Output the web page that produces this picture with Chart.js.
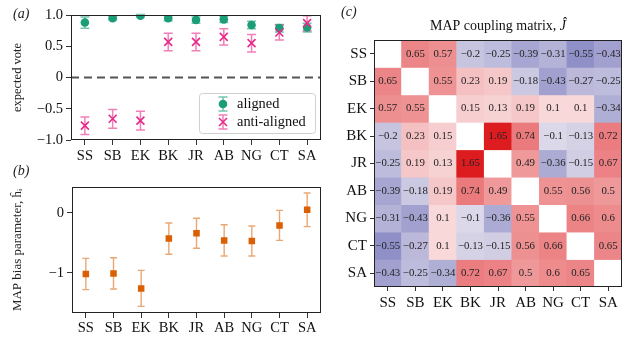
<!DOCTYPE html>
<html>
<head>
<meta charset="utf-8">
<style>
  html, body { margin: 0; width: 632px; height: 338px; overflow: hidden; background: #fff; }
  .panel { position: absolute; }
  .tag { position: absolute; font: italic 14px "Liberation Serif", serif; color: #222; }
</style>
</head>
<body>
<div class="panel" style="left:0;top:0;width:332px;height:168px"><canvas id="votes"></canvas></div>
<div class="panel" style="left:0;top:168px;width:332px;height:170px"><canvas id="bias"></canvas></div>
<div class="panel" style="left:335px;top:0;width:297px;height:338px"><canvas id="coupling"></canvas></div>
<div class="tag" style="left:13px;top:6px">(a)</div>
<div class="tag" style="left:13px;top:163px">(b)</div>
<div class="tag" style="left:341px;top:4px">(c)</div>

<script src="https://cdn.jsdelivr.net/npm/chart.js@4"></script>
<script>
const members = ['SS', 'SB', 'EK', 'BK', 'JR', 'AB', 'NG', 'CT', 'SA']

// (a) expected vote
const alignedVote = [0.88, 0.95, 0.99, 0.95, 0.92, 0.93, 0.84, 0.79, 0.8]
const alignedErr = [0.09, 0.03, 0.02, 0.04, 0.05, 0.05, 0.06, 0.06, 0.07]
const antiVote = [-0.77, -0.66, -0.69, 0.57, 0.57, 0.65, 0.55, 0.72, 0.87]
const antiErr = [0.14, 0.15, 0.15, 0.14, 0.14, 0.13, 0.14, 0.12, 0.12]
const voteTicks = [-1, -0.5, 0, 0.5, 1]

// (b) MAP bias parameter
const biasMAP = [-1.02, -1.01, -1.26, -0.43, -0.34, -0.46, -0.47, -0.21, 0.05]
const biasErr = [0.26, 0.26, 0.3, 0.26, 0.25, 0.26, 0.25, 0.25, 0.28]
const biasTicks = [-1, 0]

// (c) MAP coupling matrix, rows in the same order as members (null = diagonal)
const coupling = [
  [null, 0.65, 0.57, -0.2, -0.25, -0.39, -0.31, -0.55, -0.43],
  [0.65, null, 0.55, 0.23, 0.19, -0.18, -0.43, -0.27, -0.25],
  [0.57, 0.55, null, 0.15, 0.13, 0.19, 0.1, 0.1, -0.34],
  [-0.2, 0.23, 0.15, null, 1.65, 0.74, -0.1, -0.13, 0.72],
  [-0.25, 0.19, 0.13, 1.65, null, 0.49, -0.36, -0.15, 0.67],
  [-0.39, -0.18, 0.19, 0.74, 0.49, null, 0.55, 0.56, 0.5],
  [-0.31, -0.43, 0.1, -0.1, -0.36, 0.55, null, 0.66, 0.6],
  [-0.55, -0.27, 0.1, -0.13, -0.15, 0.56, 0.66, null, 0.65],
  [-0.43, -0.25, -0.34, 0.72, 0.67, 0.5, 0.6, 0.65, null]
]

const SERIF = '"Liberation Serif", "Times New Roman", serif'
Chart.defaults.font.family = SERIF
Chart.defaults.color = '#111'
Chart.defaults.animation = false

const GREEN = '#1b9e77', PINK = '#e7298a', ORANGE = '#d95f02'

function minus(v, digits) {
  const s = digits == null ? String(Math.abs(v)) : Math.abs(v).toFixed(digits)
  return (v < 0 ? '\u2212' : '') + s
}

function cellColor(v) {
  const t = Math.pow(Math.min(Math.abs(v) / 1.65, 1), 0.7)
  const w = [252, 247, 247]
  const end = v >= 0 ? [221, 28, 32] : [20, 25, 145]
  const c = w.map((x, i) => Math.round(x + (end[i] - x) * t))
  return `rgb(${c[0]},${c[1]},${c[2]})`
}

const tickGrid = { drawOnChartArea: false, tickLength: 5, tickColor: '#333', tickWidth: 1 }

// error bars drawn through the chart scales
const errorBars = {
  id: 'errorBars',
  beforeDatasetsDraw(chart) {
    const ctx = chart.ctx, y = chart.scales.y
    chart.data.datasets.forEach((ds, i) => {
      if (!ds.errors) return
      const meta = chart.getDatasetMeta(i)
      ctx.save()
      ctx.strokeStyle = ds.errColor
      ctx.lineWidth = ds.errWidth
      meta.data.forEach((pt, j) => {
        const v = ds.data[j], e = ds.errors[j]
        const top = y.getPixelForValue(v + e), bot = y.getPixelForValue(v - e)
        ctx.beginPath()
        ctx.moveTo(pt.x, top); ctx.lineTo(pt.x, bot)
        ctx.moveTo(pt.x - ds.cap, top); ctx.lineTo(pt.x + ds.cap, top)
        ctx.moveTo(pt.x - ds.cap, bot); ctx.lineTo(pt.x + ds.cap, bot)
        ctx.stroke()
      })
      ctx.restore()
    })
  }
}

const frame = {
  id: 'frame',
  afterDatasetsDraw(chart) {
    const a = chart.chartArea, ctx = chart.ctx
    ctx.save()
    ctx.strokeStyle = '#222'
    ctx.lineWidth = 1
    ctx.strokeRect(Math.round(a.left) + 0.5, Math.round(a.top) + 0.5,
      Math.round(a.right - a.left) - 1, Math.round(a.bottom - a.top) - 1)
    ctx.restore()
  }
}

const zeroLine = {
  id: 'zeroLine',
  beforeDatasetsDraw(chart) {
    const a = chart.chartArea, ctx = chart.ctx
    const y0 = chart.scales.y.getPixelForValue(0)
    ctx.save()
    ctx.strokeStyle = '#555'
    ctx.lineWidth = 1.8
    ctx.setLineDash([8, 5])
    ctx.beginPath()
    ctx.moveTo(a.left, y0); ctx.lineTo(a.right, y0)
    ctx.stroke()
    ctx.restore()
  }
}

const voteLegend = {
  id: 'voteLegend',
  afterDraw(chart) {
    const a = chart.chartArea, ctx = chart.ctx
    const bx = a.right - 122, by = a.bottom - 47, w = 116, h = 40
    ctx.save()
    ctx.fillStyle = 'rgba(255,255,255,0.85)'
    ctx.strokeStyle = '#d0d0d0'
    ctx.lineWidth = 1
    ctx.beginPath()
    ctx.roundRect(bx + 0.5, by + 0.5, w, h, 3)
    ctx.fill(); ctx.stroke()
    const mx = bx + 24
    const rows = [
      { y: by + 11, label: 'aligned', color: GREEN, err: 'rgba(27,158,119,0.6)' },
      { y: by + 29, label: 'anti-aligned', color: PINK, err: 'rgba(231,41,138,0.6)' }
    ]
    rows.forEach((r, i) => {
      ctx.strokeStyle = r.err
      ctx.lineWidth = 1.5
      ctx.beginPath()
      ctx.moveTo(mx, r.y - 7); ctx.lineTo(mx, r.y + 7)
      ctx.moveTo(mx - 4.5, r.y - 7); ctx.lineTo(mx + 4.5, r.y - 7)
      ctx.moveTo(mx - 4.5, r.y + 7); ctx.lineTo(mx + 4.5, r.y + 7)
      ctx.stroke()
      if (i === 0) {
        ctx.fillStyle = r.color
        ctx.beginPath(); ctx.arc(mx, r.y, 4.3, 0, Math.PI * 2); ctx.fill()
      } else {
        ctx.strokeStyle = r.color
        ctx.lineWidth = 1.6
        ctx.beginPath()
        ctx.moveTo(mx - 4, r.y - 4); ctx.lineTo(mx + 4, r.y + 4)
        ctx.moveTo(mx - 4, r.y + 4); ctx.lineTo(mx + 4, r.y - 4)
        ctx.stroke()
      }
      ctx.fillStyle = '#111'
      ctx.font = '14.4px ' + SERIF
      ctx.textBaseline = 'middle'
      ctx.fillText(r.label, bx + 38, r.y)
    })
    ctx.restore()
  }
}

new Chart(document.getElementById('votes'), {
  type: 'line',
  data: {
    labels: members,
    datasets: [
      {
        label: 'aligned', data: alignedVote, errors: alignedErr, order: 1,
        errColor: 'rgba(27,158,119,0.6)', errWidth: 1.5, cap: 4.5,
        showLine: false, pointStyle: 'circle', pointRadius: 4.3,
        pointBackgroundColor: GREEN, pointBorderColor: GREEN, pointBorderWidth: 0
      },
      {
        label: 'anti-aligned', data: antiVote, errors: antiErr, order: 0,
        errColor: 'rgba(231,41,138,0.6)', errWidth: 1.5, cap: 4.5,
        showLine: false, pointStyle: 'crossRot', pointRadius: 5.6,
        pointBorderColor: PINK, pointBorderWidth: 1.6
      }
    ]
  },
  options: {
    responsive: true,
    maintainAspectRatio: false,
    layout: { padding: { left: 2, top: 15, right: 11, bottom: 0 } },
    plugins: { legend: { display: false }, tooltip: { enabled: false } },
    scales: {
      x: {
        offset: true,
        grid: tickGrid,
        border: { display: false },
        ticks: { font: { size: 14.5 }, padding: 2, autoSkip: false, maxRotation: 0 },
        afterFit: s => { s.height = 28 }
      },
      y: {
        min: -1, max: 1,
        afterBuildTicks: s => { s.ticks = voteTicks.map(v => ({ value: v })) },
        grid: tickGrid,
        border: { display: false },
        ticks: { font: { size: 14.5 }, padding: 3, callback: v => (v === 0 ? '0' : minus(v, 1)) },
        title: { display: true, text: 'expected vote', font: { size: 12.5 }, color: '#222', padding: { top: 8, bottom: 0 } },
        afterFit: s => { s.width = 69 }
      }
    }
  },
  plugins: [zeroLine, errorBars, frame, voteLegend]
})

new Chart(document.getElementById('bias'), {
  type: 'line',
  data: {
    labels: members,
    datasets: [
      {
        label: 'MAP bias', data: biasMAP, errors: biasErr,
        errColor: 'rgba(217,95,2,0.55)', errWidth: 1.4, cap: 3.5,
        showLine: false, pointStyle: 'rect', pointRadius: 4.6,
        pointBackgroundColor: ORANGE, pointBorderColor: ORANGE, pointBorderWidth: 0
      }
    ]
  },
  options: {
    responsive: true,
    maintainAspectRatio: false,
    layout: { padding: { left: 2, top: 19, right: 11, bottom: 0 } },
    plugins: { legend: { display: false }, tooltip: { enabled: false } },
    scales: {
      x: {
        offset: true,
        grid: tickGrid,
        border: { display: false },
        ticks: { font: { size: 14.5 }, padding: 1, autoSkip: false, maxRotation: 0 },
        afterFit: s => { s.height = 25 }
      },
      y: {
        min: -1.67, max: 0.43,
        afterBuildTicks: s => { s.ticks = biasTicks.map(v => ({ value: v })) },
        grid: tickGrid,
        border: { display: false },
        ticks: { font: { size: 14.5 }, padding: 3, callback: v => minus(v) },
        title: { display: true, text: 'MAP bias parameter, \u0125\u1d62', font: { size: 13 }, color: '#222', padding: { top: 8, bottom: 0 } },
        afterFit: s => { s.width = 70 }
      }
    }
  },
  plugins: [errorBars, frame]
})

const cellText = {
  id: 'cellText',
  afterDatasetsDraw(chart) {
    const ctx = chart.ctx, a = chart.chartArea
    ctx.save()
    ctx.fillStyle = '#222'
    ctx.font = '10.8px ' + SERIF
    ctx.textAlign = 'center'
    ctx.textBaseline = 'middle'
    chart.data.datasets.forEach((ds, r) => {
      chart.getDatasetMeta(r).data.forEach((el, c) => {
        const v = coupling[r][c]
        if (v === null) return
        ctx.fillText(minus(v), el.x, (el.y + el.base) / 2)
      })
    })
    // panel title, centred over the matrix
    const t1 = 'MAP coupling matrix, ', t2 = '\u0134'
    ctx.font = '14px ' + SERIF
    const w1 = ctx.measureText(t1).width
    ctx.font = 'italic 14px ' + SERIF
    const w2 = ctx.measureText(t2).width
    const x0 = (a.left + a.right) / 2 - (w1 + w2) / 2
    ctx.textAlign = 'left'
    ctx.fillStyle = '#111'
    ctx.font = '14px ' + SERIF
    ctx.fillText(t1, x0, 26)
    ctx.font = 'italic 14px ' + SERIF
    ctx.fillText(t2, x0 + w1, 26)
    ctx.restore()
  }
}

new Chart(document.getElementById('coupling'), {
  type: 'bar',
  data: {
    labels: members,
    datasets: members.map((name, r) => ({
      label: name,
      data: members.map(() => 1),
      backgroundColor: coupling[r].map(v => (v === null ? '#ffffff' : cellColor(v))),
      barPercentage: 1,
      categoryPercentage: 1,
      borderWidth: 0
    }))
  },
  options: {
    responsive: true,
    maintainAspectRatio: false,
    layout: { padding: { left: 0, top: 40, right: 10, bottom: 0 } },
    plugins: { legend: { display: false }, tooltip: { enabled: false } },
    scales: {
      x: {
        stacked: true,
        grid: { drawOnChartArea: false, offset: false, tickLength: 4, tickColor: '#333' },
        border: { display: false },
        ticks: { font: { size: 15 }, padding: 3, autoSkip: false, maxRotation: 0 },
        afterFit: s => { s.height = 51 }
      },
      y: { stacked: true, min: 0, max: 9, reverse: true, display: false },
      rows: {
        type: 'category', axis: 'y', labels: members, position: 'left', offset: true,
        grid: { drawOnChartArea: false, offset: false, tickLength: 4, tickColor: '#333' },
        border: { display: false },
        ticks: { font: { size: 15 }, padding: 3, autoSkip: false },
        afterFit: s => { s.width = 39 }
      }
    }
  },
  plugins: [cellText, frame]
})
</script>
</body>
</html>
